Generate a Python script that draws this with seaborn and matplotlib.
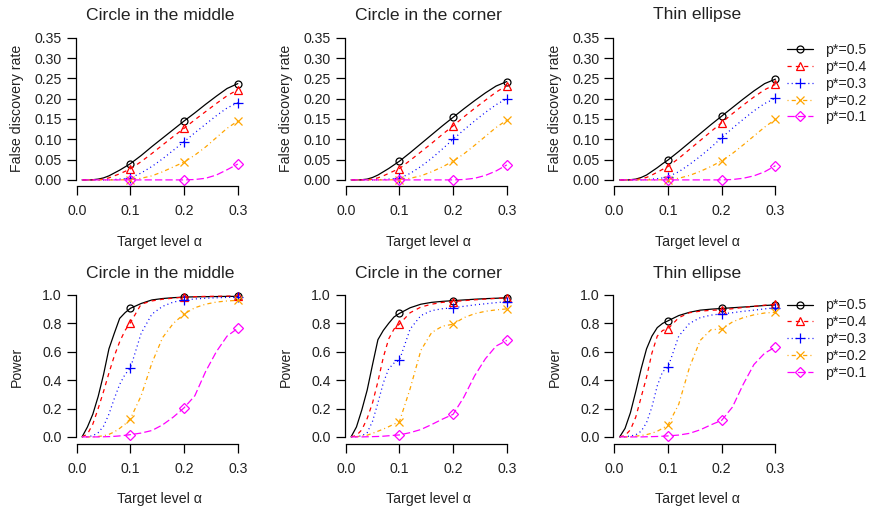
import matplotlib
matplotlib.use("Agg")
import matplotlib.pyplot as plt
from matplotlib.lines import Line2D
import seaborn as sns
import pandas as pd

# ---------------- data ----------------
alpha = [0.01, 0.02, 0.03, 0.04, 0.05, 0.06, 0.07, 0.08, 0.09, 0.10,
         0.12, 0.14, 0.16, 0.18, 0.20, 0.22, 0.24, 0.26, 0.28, 0.30]
marked_alpha = [0.1, 0.2, 0.3]
p_star = [0.5, 0.4, 0.3, 0.2, 0.1]
legend_labels = ["p*=0.5", "p*=0.4", "p*=0.3", "p*=0.2", "p*=0.1"]
titles = ["Circle in the middle", "Circle in the corner", "Thin ellipse"]
ylabels = ["False discovery rate", "Power"]
xlabel = "Target level \u03b1"
fdr_ticks = [0.00, 0.05, 0.10, 0.15, 0.20, 0.25, 0.30, 0.35]
power_ticks = [0.0, 0.2, 0.4, 0.6, 0.8, 1.0]
x_ticks = [0.0, 0.1, 0.2, 0.3]

# FDR, circle in the middle
fdr_mid_p5 = [0, 0, 0.0005, 0.002, 0.005, 0.010, 0.017, 0.024, 0.032, 0.040,
              0.060, 0.082, 0.103, 0.124, 0.145, 0.165, 0.186, 0.206, 0.225, 0.237]
fdr_mid_p4 = [0, 0, 0, 0.0005, 0.002, 0.005, 0.010, 0.015, 0.021, 0.027,
              0.045, 0.065, 0.086, 0.107, 0.127, 0.148, 0.168, 0.188, 0.207, 0.222]
fdr_mid_p3 = [0, 0, 0, 0, 0, 0.0005, 0.001, 0.002, 0.003, 0.005,
              0.017, 0.033, 0.052, 0.073, 0.094, 0.116, 0.137, 0.158, 0.177, 0.190]
fdr_mid_p2 = [0, 0, 0, 0, 0, 0, 0, 0, 0.0005, 0.001,
              0.004, 0.010, 0.020, 0.032, 0.044, 0.061, 0.081, 0.104, 0.127, 0.145]
fdr_mid_p1 = [0, 0, 0, 0, 0, 0, 0, 0, 0, 0,
              0, 0, 0, 0, 0, 0.001, 0.004, 0.012, 0.025, 0.039]

# FDR, circle in the corner
fdr_cor_p5 = [0, 0, 0.0005, 0.002, 0.006, 0.012, 0.020, 0.028, 0.037, 0.046,
              0.067, 0.089, 0.111, 0.133, 0.154, 0.175, 0.195, 0.214, 0.231, 0.242]
fdr_cor_p4 = [0, 0, 0, 0.0005, 0.002, 0.005, 0.010, 0.016, 0.022, 0.028,
              0.048, 0.069, 0.090, 0.112, 0.133, 0.155, 0.176, 0.196, 0.216, 0.232]
fdr_cor_p3 = [0, 0, 0, 0, 0, 0.0005, 0.001, 0.002, 0.003, 0.004,
              0.016, 0.033, 0.053, 0.076, 0.100, 0.123, 0.145, 0.166, 0.185, 0.200]
fdr_cor_p2 = [0, 0, 0, 0, 0, 0, 0, 0, 0.0005, 0.001,
              0.004, 0.010, 0.020, 0.032, 0.046, 0.064, 0.085, 0.107, 0.129, 0.147]
fdr_cor_p1 = [0, 0, 0, 0, 0, 0, 0, 0, 0, 0,
              0, 0, 0, 0, 0, 0.001, 0.004, 0.011, 0.022, 0.037]

# FDR, thin ellipse
fdr_ell_p5 = [0, 0, 0.0005, 0.002, 0.006, 0.012, 0.021, 0.030, 0.040, 0.049,
              0.070, 0.092, 0.114, 0.136, 0.157, 0.178, 0.199, 0.219, 0.237, 0.248]
fdr_ell_p4 = [0, 0, 0, 0.001, 0.003, 0.006, 0.012, 0.019, 0.026, 0.033,
              0.053, 0.075, 0.097, 0.119, 0.141, 0.163, 0.184, 0.204, 0.222, 0.235]
fdr_ell_p3 = [0, 0, 0, 0, 0, 0.001, 0.002, 0.003, 0.005, 0.008,
              0.020, 0.038, 0.058, 0.080, 0.104, 0.127, 0.149, 0.170, 0.188, 0.201]
fdr_ell_p2 = [0, 0, 0, 0, 0, 0, 0, 0, 0.0005, 0.001,
              0.004, 0.011, 0.021, 0.033, 0.047, 0.065, 0.086, 0.108, 0.130, 0.149]
fdr_ell_p1 = [0, 0, 0, 0, 0, 0, 0, 0, 0, 0,
              0, 0, 0, 0, 0, 0.001, 0.004, 0.010, 0.020, 0.035]

# Power, circle in the middle
pow_mid_p5 = [0, 0.07, 0.16, 0.285, 0.44, 0.62, 0.73, 0.835, 0.875, 0.906,
              0.940, 0.965, 0.975, 0.981, 0.985, 0.987, 0.988, 0.989, 0.990, 0.990]
pow_mid_p4 = [0, 0.02, 0.09, 0.20, 0.32, 0.45, 0.57, 0.67, 0.75, 0.805,
              0.935, 0.958, 0.970, 0.978, 0.985, 0.988, 0.990, 0.991, 0.992, 0.993]
pow_mid_p3 = [0, 0.002, 0.008, 0.03, 0.075, 0.16, 0.27, 0.37, 0.44, 0.485,
              0.73, 0.865, 0.92, 0.95, 0.965, 0.972, 0.977, 0.980, 0.983, 0.985]
pow_mid_p2 = [0, 0, 0.001, 0.003, 0.008, 0.018, 0.035, 0.06, 0.09, 0.127,
              0.29, 0.52, 0.70, 0.80, 0.866, 0.91, 0.935, 0.950, 0.958, 0.962]
pow_mid_p1 = [0, 0, 0, 0, 0.001, 0.002, 0.004, 0.007, 0.011, 0.016,
              0.027, 0.045, 0.085, 0.14, 0.205, 0.29, 0.46, 0.60, 0.71, 0.765]

# Power, circle in the corner
pow_cor_p5 = [0, 0.07, 0.19, 0.33, 0.51, 0.685, 0.75, 0.80, 0.845, 0.870,
              0.910, 0.935, 0.948, 0.955, 0.960, 0.965, 0.970, 0.974, 0.977, 0.980]
pow_cor_p4 = [0, 0.01, 0.05, 0.13, 0.24, 0.39, 0.56, 0.69, 0.76, 0.795,
              0.875, 0.915, 0.935, 0.948, 0.953, 0.960, 0.966, 0.971, 0.976, 0.980]
pow_cor_p3 = [0, 0.002, 0.008, 0.03, 0.11, 0.24, 0.38, 0.48, 0.52, 0.54,
              0.76, 0.855, 0.89, 0.903, 0.910, 0.920, 0.930, 0.938, 0.946, 0.953]
pow_cor_p2 = [0, 0.002, 0.006, 0.012, 0.025, 0.04, 0.055, 0.072, 0.09, 0.107,
              0.34, 0.61, 0.735, 0.78, 0.794, 0.84, 0.868, 0.885, 0.895, 0.902]
pow_cor_p1 = [0, 0, 0, 0.001, 0.002, 0.003, 0.005, 0.008, 0.011, 0.014,
              0.030, 0.052, 0.087, 0.125, 0.159, 0.28, 0.43, 0.55, 0.64, 0.680]

# Power, thin ellipse
pow_ell_p5 = [0, 0.06, 0.17, 0.32, 0.48, 0.62, 0.71, 0.77, 0.80, 0.818,
              0.855, 0.878, 0.893, 0.900, 0.905, 0.910, 0.915, 0.920, 0.926, 0.930]
pow_ell_p4 = [0, 0.01, 0.05, 0.14, 0.28, 0.42, 0.59, 0.71, 0.75, 0.762,
              0.84, 0.875, 0.886, 0.892, 0.895, 0.903, 0.912, 0.920, 0.928, 0.935]
pow_ell_p3 = [0, 0.002, 0.006, 0.015, 0.04, 0.10, 0.21, 0.36, 0.46, 0.49,
              0.71, 0.80, 0.84, 0.858, 0.867, 0.875, 0.885, 0.893, 0.902, 0.910]
pow_ell_p2 = [0, 0, 0.002, 0.005, 0.01, 0.016, 0.026, 0.04, 0.06, 0.084,
              0.23, 0.49, 0.68, 0.755, 0.760, 0.81, 0.84, 0.86, 0.873, 0.878]
pow_ell_p1 = [0, 0, 0, 0, 0, 0.001, 0.002, 0.003, 0.005, 0.007,
              0.013, 0.025, 0.05, 0.085, 0.117, 0.21, 0.37, 0.51, 0.59, 0.633]

panel_series = [
    [[fdr_mid_p5, fdr_mid_p4, fdr_mid_p3, fdr_mid_p2, fdr_mid_p1],
     [fdr_cor_p5, fdr_cor_p4, fdr_cor_p3, fdr_cor_p2, fdr_cor_p1],
     [fdr_ell_p5, fdr_ell_p4, fdr_ell_p3, fdr_ell_p2, fdr_ell_p1]],
    [[pow_mid_p5, pow_mid_p4, pow_mid_p3, pow_mid_p2, pow_mid_p1],
     [pow_cor_p5, pow_cor_p4, pow_cor_p3, pow_cor_p2, pow_cor_p1],
     [pow_ell_p5, pow_ell_p4, pow_ell_p3, pow_ell_p2, pow_ell_p1]],
]

# ---------------- styles ----------------
colors = ["black", "#FF0000", "#0000FF", "#FFA500", "#FF00FF"]
dash_styles = ["-", (0, (3, 3)), (0, (0.75, 2.25)), (0, (0.75, 2.25, 3, 2.25)), (0, (5.25, 2.25))]
markers = ["o", "^", "+", "x", "D"]
marker_sizes = [5.0, 6.3, 7.0, 5.2, 4.9]

sns.set_style("ticks")
plt.rcParams["font.family"] = ["Liberation Sans", "DejaVu Sans"]
plt.rcParams["lines.scale_dashes"] = False
FS = 10.2
TFS = 12.6

W, H = 870, 512
fig = plt.figure(figsize=(W / 100, H / 100), dpi=100)

x0_px = [76.7, 345.7, 614.3]
xscale = 537.0
xlim = (-0.0016, 0.3116)
rows = [
    dict(top=32.0, bottom=185.6, ylim=(-0.014, 0.364), ticks=fdr_ticks, fmt="{:.2f}", ymax=0.35,
         title_y=15.0, xlab_y=242.0),
    dict(top=289.3, bottom=444.0, ylim=(-0.05, 1.04), ticks=power_ticks, fmt="{:.1f}", ymax=1.0,
         title_y=273.5, xlab_y=499.0),
]

axes = [[None] * 3 for _ in range(2)]
for r, rw in enumerate(rows):
    for c in range(3):
        left = x0_px[c] + xlim[0] * xscale
        width = (xlim[1] - xlim[0]) * xscale
        height = rw["bottom"] - rw["top"]
        ax = fig.add_axes([left / W, 1 - rw["bottom"] / H, width / W, height / H])
        axes[r][c] = ax
        for s in range(5):
            df = pd.DataFrame({"alpha": alpha, "value": panel_series[r][c][s]})
            mark_idx = [i for i, a in enumerate(alpha) if round(a, 3) in marked_alpha]
            sns.lineplot(data=df, x="alpha", y="value", ax=ax, color=colors[s],
                         linestyle=dash_styles[s], linewidth=0.9,
                         marker=markers[s], markevery=mark_idx,
                         markersize=marker_sizes[s], markerfacecolor="none",
                         markeredgecolor=colors[s], markeredgewidth=0.9,
                         estimator=None, errorbar=None, legend=False)
        ax.set_xlim(*xlim)
        ax.set_ylim(*rw["ylim"])
        ax.set_xticks(x_ticks)
        ax.set_xticklabels([f"{t:.1f}" for t in x_ticks])
        ax.set_yticks(rw["ticks"])
        ax.set_yticklabels([rw["fmt"].format(t) for t in rw["ticks"]])
        for side in ["top", "right"]:
            ax.spines[side].set_visible(False)
        ax.spines["left"].set_bounds(0, rw["ymax"])
        ax.spines["bottom"].set_bounds(0, 0.3)
        for side in ["left", "bottom"]:
            ax.spines[side].set_linewidth(0.9)
            ax.spines[side].set_color("black")
        ax.tick_params(axis="both", direction="out", length=6.2, width=0.9, colors="black",
                       labelsize=FS, labelcolor="#222222")
        ax.tick_params(axis="x", pad=7.0)
        ax.tick_params(axis="y", pad=3.8)
        ax.patch.set_visible(False)
        # labels
        ax.set_xlabel(xlabel, fontsize=FS, color="#222222")
        ax.set_ylabel(ylabels[r], fontsize=FS, color="#222222")
        xl_y = (rw["bottom"] - rw["xlab_y"]) / height
        ax.xaxis.set_label_coords(0.5, xl_y)
        ax.xaxis.label.set_verticalalignment("center")
        yl_x = (x0_px[c] - 59.7 - left) / width
        ax.yaxis.set_label_coords(yl_x, 0.5)
        ax.yaxis.label.set_verticalalignment("center")
        t_y = (rw["bottom"] - rw["title_y"]) / height
        ax.text(0.5, t_y, titles[c], transform=ax.transAxes, ha="center", va="center",
                fontsize=TFS, color="#222222")

# legends
handles = [Line2D([], [], color=colors[s], linestyle=dash_styles[s], linewidth=0.9,
                  marker=markers[s], markersize=marker_sizes[s], markerfacecolor="none",
                  markeredgecolor=colors[s], markeredgewidth=0.9) for s in range(5)]
for r, top_px in enumerate([43.0, 298.5]):
    fig.legend(handles, legend_labels, loc="upper left",
               bbox_to_anchor=(786.7 / W, 1 - top_px / H), bbox_transform=fig.transFigure,
               frameon=False, fontsize=FS, handlelength=1.84, handletextpad=0.84,
               labelspacing=0.2, borderpad=0, borderaxespad=0, labelcolor="#222222")

fig.savefig("out.png", dpi=100)
